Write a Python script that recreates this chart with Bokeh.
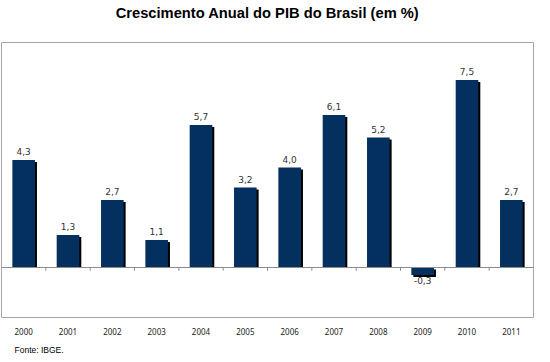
from bokeh.plotting import figure
from bokeh.models import ColumnDataSource, Span, Title, FactorRange, Range1d
from bokeh.transform import dodge
from bokeh.core.properties import value
from bokeh.embed import file_html
from bokeh.resources import INLINE

years = ["2000", "2001", "2002", "2003", "2004", "2005",
         "2006", "2007", "2008", "2009", "2010", "2011"]
growth = [4.3, 1.3, 2.7, 1.1, 5.7, 3.2, 4.0, 6.1, 5.2, -0.3, 7.5, 2.7]
labels = [f"{v:.1f}".replace(".", ",") for v in growth]
title_text = "Crescimento Anual do PIB do Brasil (em %)"
source_text = "Fonte: IBGE."

BAR = "#03305F"
SH = 0.08  # shadow shift in data units (~2px)

src = ColumnDataSource(dict(
    year=years,
    top=[max(v, 0) for v in growth],
    bottom=[min(v, 0) for v in growth],
    stop=[max(v, 0) - SH for v in growth],
    sbottom=[(v - SH) if v < 0 else 0 for v in growth],
))
pos = ColumnDataSource(dict(
    year=[y for y, v in zip(years, growth) if v >= 0],
    val=[v for v in growth if v >= 0],
    lab=[l for l, v in zip(labels, growth) if v >= 0],
))
neg = ColumnDataSource(dict(
    year=[y for y, v in zip(years, growth) if v < 0],
    val=[v for v in growth if v < 0],
    lab=[l for l, v in zip(labels, growth) if v < 0],
))
ticks = ColumnDataSource(dict(year=years[1:]))

p = figure(width=534, height=360, x_range=FactorRange(*years, range_padding=0),
           y_range=Range1d(-2, 9), output_backend="svg", toolbar_location=None,
           y_axis_location=None, min_border_left=1, min_border_right=1,
           min_border_top=41, min_border_bottom=41)

p.outline_line_color = "#a6a6a6"
p.outline_line_width = 1
p.xgrid.grid_line_color = None
p.ygrid.grid_line_color = None
p.background_fill_color = "white"
p.border_fill_color = "white"

# shadows
p.vbar(x=dodge("year", 0.045, range=p.x_range), top="stop", bottom="sbottom",
       width=0.51, source=src, fill_color="black", line_color=None)
# bars
p.vbar(x="year", top="top", bottom="bottom", width=0.51, source=src,
       fill_color=BAR, line_color=None)

p.add_layout(Span(location=0, dimension="width", line_color="#8c8c8c", line_width=1))
p.segment(x0=dodge("year", -0.5, range=p.x_range), y0=0,
          x1=dodge("year", -0.5, range=p.x_range), y1=-0.13,
          source=ticks, line_color="#8c8c8c", line_width=1)

p.text(x="year", y="val", text="lab", source=pos, text_align="center",
       text_baseline="bottom", y_offset=-5, text_font=value("DejaVu Sans"),
       text_font_size="9px", text_color="#333333")
p.text(x="year", y="val", text="lab", source=neg, text_align="center",
       text_baseline="top", y_offset=2, text_font=value("DejaVu Sans"),
       text_font_size="9px", text_color="#333333")

ax = p.xaxis[0]
ax.axis_line_color = None
ax.major_tick_line_color = None
ax.minor_tick_line_color = None
ax.major_tick_out = 0
ax.major_tick_in = 0
ax.major_label_text_font = "Noto Sans"
ax.major_label_text_font_size = "8px"
ax.major_label_text_color = "#222222"
ax.major_label_standoff = 10

# invisible spacer between the frame and the title, pushing the title up
p.add_layout(Title(text=" ", text_font_size="1px", standoff=17,
                   text_color="white"), "above")
p.title = Title(text=title_text, align="center", text_font="Liberation Sans",
                text_font_size="14.7px", text_font_style="bold",
                text_color="#000000", offset=2, standoff=4)
p.add_layout(Title(text=source_text, align="left", text_font="Liberation Sans",
                   text_font_size="8.5px", text_font_style="normal",
                   text_color="#000000", offset=13, standoff=11), "below")

open("out.html", "w").write(file_html(p, INLINE))
